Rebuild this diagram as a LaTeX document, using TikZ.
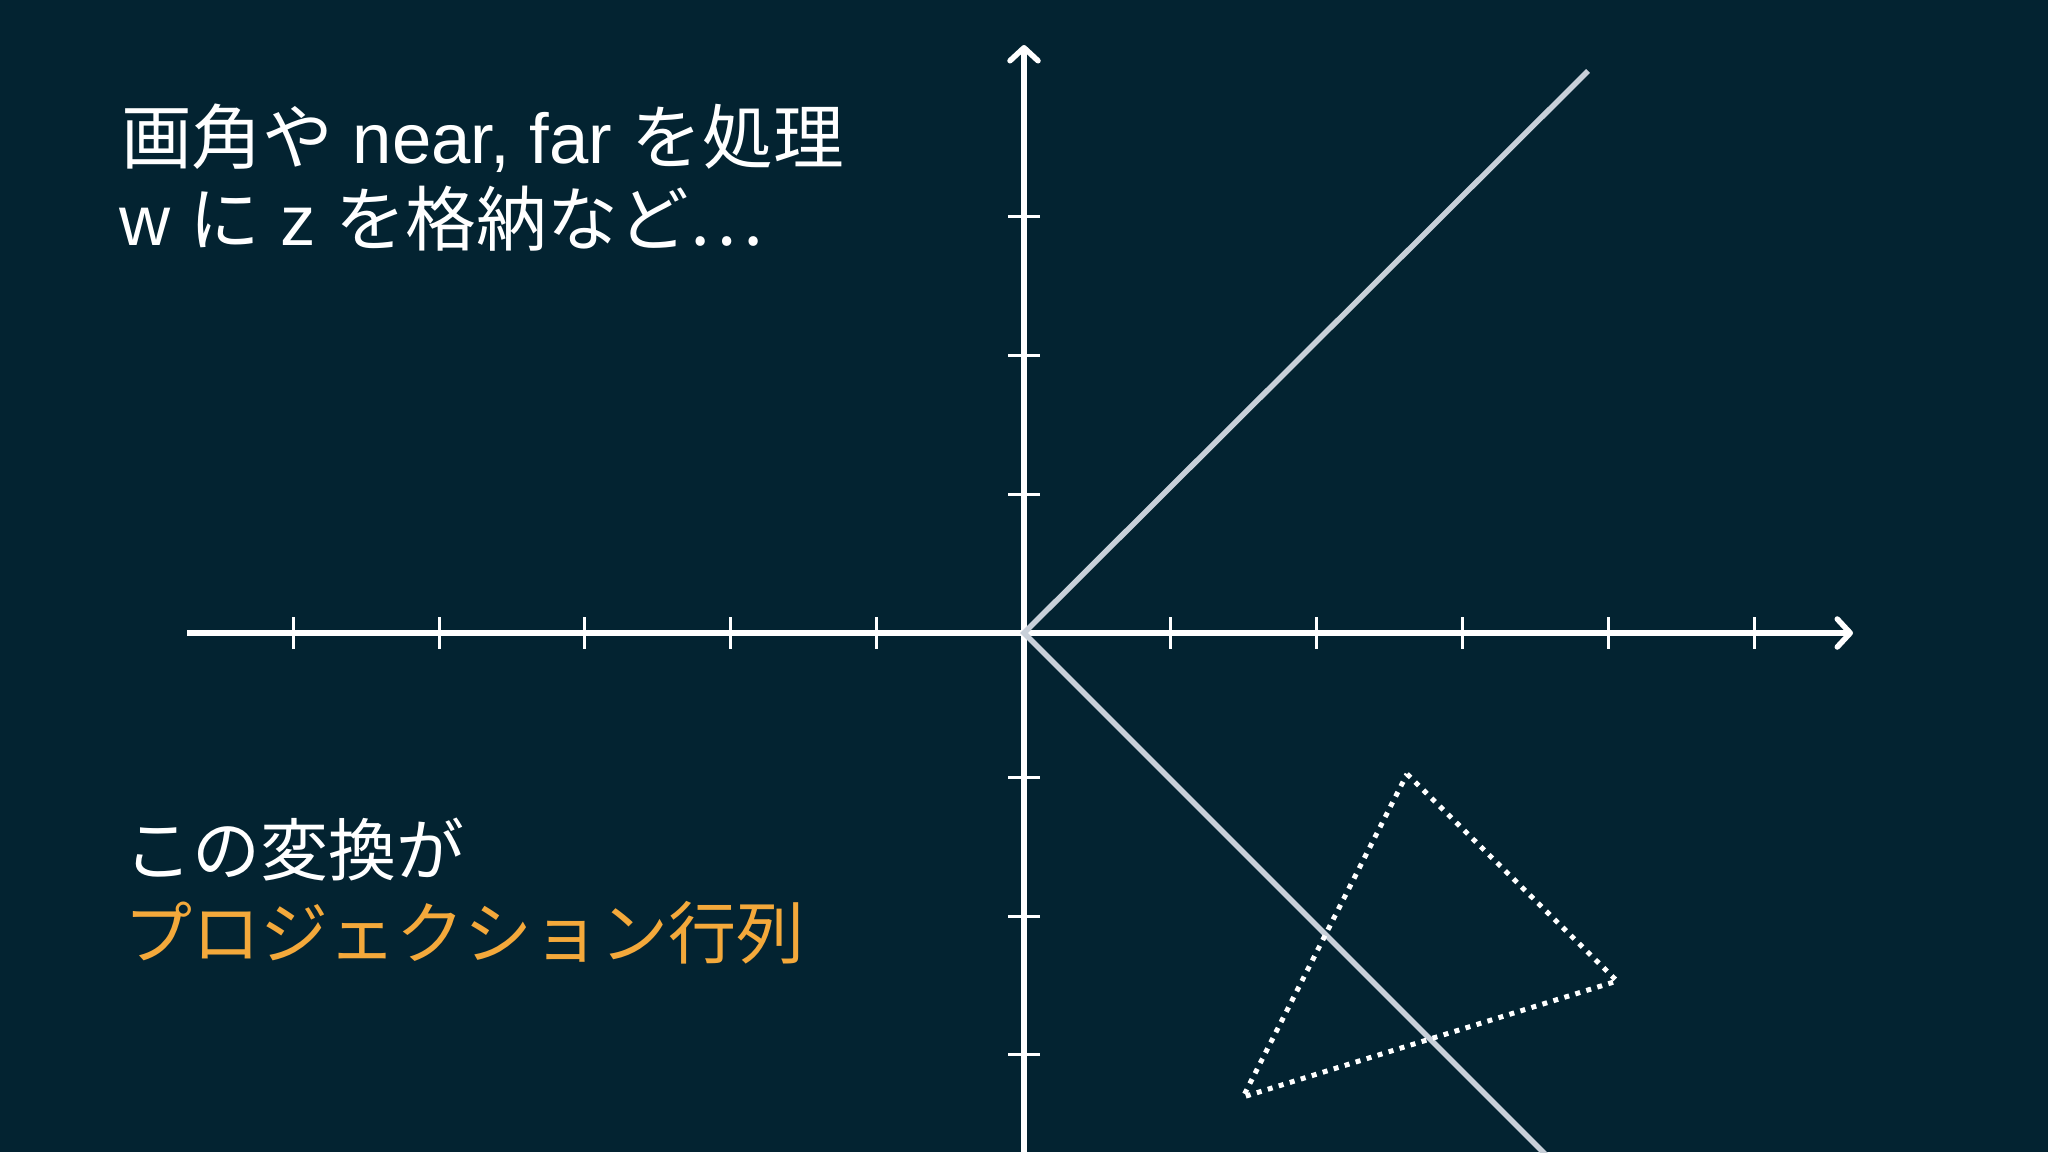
\documentclass[tikz,border=0pt]{standalone}
\usepackage{fontspec}
\setmainfont{Liberation Sans}
\newfontfamily\jp{Noto Sans CJK JP}
\usetikzlibrary{arrows.meta}
\definecolor{bg}{HTML}{032331}
\definecolor{orangetxt}{HTML}{F4A93B}
\definecolor{diag}{HTML}{C8D0D9}
\tikzset{
  axis/.style={white, line width=5.5pt, -{Straight Barb[length=13pt,width=28pt,line cap=round,line join=round]}},
  tick/.style={white, line width=3pt},
  diagline/.style={diag, line width=5.5pt},
  dotted tri/.style={white, line width=5pt, dash pattern=on 5pt off 6.5pt},
  label/.style={anchor=base west, inner sep=0pt, white},
  big/.style={font=\fontsize{70.7}{84}\selectfont},
  small/.style={font=\fontsize{68}{80}\selectfont},
}
\begin{document}
\begin{tikzpicture}[x=1pt,y=-1pt]
\fill[bg] (0,0) rectangle (2048,1152);
\useasboundingbox (0,0) rectangle (2048,1152);
% axes
\coordinate (O) at (1024,633);
\coordinate (xs) at (187,633);
\coordinate (xe) at (1853,633);
\coordinate (ys) at (1024,1160);
\coordinate (ye) at (1024,45);
\foreach \x in {293,439,584,730,876,1170,1316,1462,1608,1754}
  \draw[tick] (\x,617) -- (\x,649);
\foreach \y in {216.7,355.3,494,777.7,916,1054.3}
  \draw[tick] (1008,\y) -- (1040,\y);
\draw[axis] (xs) -- (xe);
\draw[axis] (ys) -- (ye);
% diagonals
\coordinate (d1) at (1588,71);
\coordinate (d2) at (1548,1157);
\draw[diagline] (d1) -- (O) -- (d2);
% dotted triangle
\coordinate (t1) at (1407,774);
\coordinate (t2) at (1617,981);
\coordinate (t3) at (1243,1097);
\draw[dotted tri] (t1) -- (t2) -- (t3) -- cycle;
% texts
\node[label, big] (l1) at (121,163) {{\jp 画角や} near, far {\jp を処理}};
\node[label, big] (l2) at (119,245) {w {\jp に} z {\jp を格納など…}};
\node[label, small] (l3) at (124,875) {\jp この変換が};
\node[label, small, text=orangetxt] (l4) at (124,958) {\jp プロジェクション行列};
\end{tikzpicture}
\end{document}
